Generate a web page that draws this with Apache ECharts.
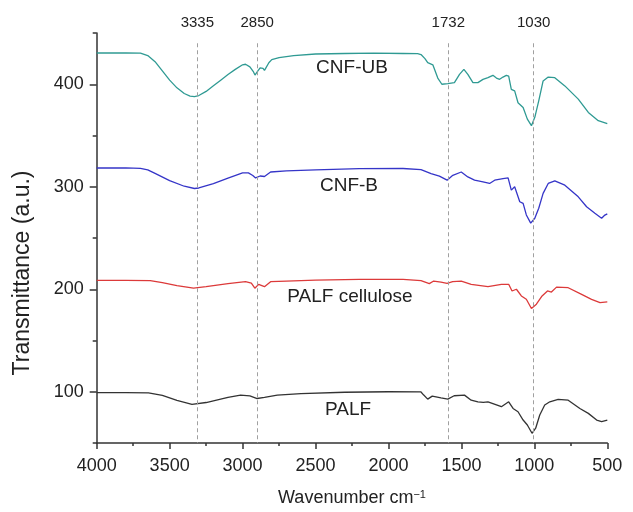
<!DOCTYPE html>
<html><head><meta charset="utf-8">
<script src="https://cdn.jsdelivr.net/npm/echarts@6/dist/echarts.min.js"></script>
<style>html,body{margin:0;padding:0;background:#fff}#c{width:633px;height:512px}</style>
</head><body><div id="c"></div>
<script>
const xTicks = [4000, 3500, 3000, 2500, 2000, 1500, 1000, 500];
const yTicks = [100, 200, 300, 400];
const yMinorTicks = [50, 150, 250, 350, 450];
const peakPositions = [3310, 2900, 1590, 1005];
const peakLabels = ['3335', '2850', '1732', '1030'];
const seriesNames = ['CNF-UB', 'CNF-B', 'PALF cellulose', 'PALF'];

const cnfUB = [[4000,430.5],[3800,430.5],[3700,430.3],[3650,428],[3600,422],[3550,413],[3500,404],[3450,396.5],[3400,391],[3360,388.5],[3330,388],[3300,389],[3250,393],[3200,398.5],[3150,404],[3100,409.5],[3050,414.5],[3000,419],[2980,419.5],[2950,417],[2925,412],[2915,409],[2900,412],[2880,416],[2860,415.5],[2850,413.5],[2840,416],[2820,421],[2800,424],[2750,426],[2650,428],[2500,429.5],[2300,430],[2100,430.3],[1900,430],[1800,429.8],[1777,429],[1750,425],[1731,421],[1696,419],[1662,406],[1634,400],[1593,400.6],[1548,401.6],[1513,409.7],[1483,414.5],[1456,409.7],[1421,401.6],[1387,401.6],[1352,404.8],[1318,406.4],[1284,408.7],[1260,406],[1238,404.8],[1215,407],[1192,408.7],[1176,408],[1158,395],[1135,393.5],[1112,382],[1077,377.3],[1048,366],[1020,359.6],[997,367.7],[970,383.8],[940,403.2],[905,407],[860,406.4],[791,398.4],[699,385.5],[630,372.5],[562,364.5],[500,361.5]];

const cnfB = [[4000,318.3],[3800,318.5],[3700,318],[3650,316.5],[3600,313],[3500,306],[3400,300.5],[3330,298.3],[3300,298.8],[3200,303],[3100,308.5],[3000,313.5],[2960,313.5],[2930,311],[2911,308.6],[2880,310.5],[2850,310],[2808,314.4],[2700,315.4],[2500,316.5],[2200,317.7],[1900,317.8],[1777,316.7],[1708,312.9],[1651,310.3],[1598,306.4],[1559,311.2],[1501,314.4],[1456,309.6],[1410,306.4],[1352,304.7],[1307,303.2],[1272,306.4],[1215,308],[1180,308.6],[1158,296.7],[1135,300],[1100,285.4],[1077,283.8],[1055,272.5],[1025,264.5],[997,269.3],[970,279],[940,293.5],[905,303.2],[860,305.7],[791,301.5],[699,290.2],[642,280.5],[585,274.2],[539,269.3],[520,272],[500,273.5]];

const palfCellulose = [[4000,208.6],[3800,208.6],[3633,208.5],[3550,206.5],[3450,203.5],[3336,201],[3250,202.5],[3100,205.5],[2980,207.4],[2940,206],[2916,201],[2890,204.8],[2850,202.5],[2808,207.4],[2700,208],[2500,209],[2200,209.6],[1900,209.6],[1777,208.5],[1720,205.5],[1690,208],[1640,207],[1598,205.7],[1560,207.5],[1501,208],[1433,204.8],[1318,202.5],[1226,204.8],[1176,204.8],[1153,198.3],[1123,200],[1089,193.5],[1055,190.2],[1020,181.2],[986,185.4],[947,193.5],[910,198.3],[883,197.3],[848,202.1],[768,201.5],[676,195],[608,190.2],[550,187],[500,187.6]];

const palf = [[4000,99.2],[3800,99.2],[3645,99],[3550,96.5],[3450,91.5],[3347,87.6],[3250,89.5],[3100,94.5],[3014,96.7],[2950,96],[2900,93.4],[2850,94.5],[2762,96.7],[2600,98.2],[2300,99.5],[2000,100],[1777,99.8],[1760,97],[1731,92.8],[1700,95.7],[1674,95.1],[1640,94.1],[1593,92.8],[1550,96.1],[1479,96.7],[1433,91.8],[1387,90.2],[1350,89.6],[1318,90.2],[1284,88.5],[1226,85.4],[1176,90.2],[1146,83.7],[1112,80.5],[1077,72.4],[1048,67.6],[1016,59.5],[991,64.4],[963,77.3],[929,87],[894,90.2],[837,92.5],[768,91.8],[688,83.7],[630,78.9],[573,72.4],[539,70.8],[500,72.4]];

const FONT = "'Liberation Sans', Arial, sans-serif";
const TXT = '#222';
const AX = '#333';
const colors = ['#2f9a93', '#3535c8', '#dc3a3a', '#333333'];
const seriesData = [cnfUB, cnfB, palfCellulose, palf];
const labelPos = [[352, 68], [349, 186], [350, 297], [348, 410]];

const chart = echarts.init(document.getElementById('c'), null, {renderer: 'canvas'});

const series = seriesData.map((d, i) => ({
  name: seriesNames[i],
  type: 'line',
  data: d,
  showSymbol: false,
  symbol: 'none',
  smooth: false,
  lineStyle: {color: colors[i], width: 1.3},
  itemStyle: {color: colors[i]},
  z: 3
}));

series[0].markLine = {
  silent: true,
  symbol: 'none',
  animation: false,
  lineStyle: {type: [4, 3], color: '#a0a0a0', width: 1},
  label: {
    show: true,
    position: 'start',
    distance: 13,
    fontSize: 15,
    fontFamily: FONT,
    color: TXT,
    formatter: p => p.name
  },
  data: peakPositions.map((p, i) => [
    {coord: [p, 440], name: peakLabels[i]},
    {coord: [p, 50]}
  ])
};

const option = {
  animation: false,
  backgroundColor: '#fff',
  grid: {left: 96.7, right: 25.7, top: 33, bottom: 67, containLabel: false},
  xAxis: {
    type: 'value',
    inverse: true,
    min: 500,
    max: 4000,
    interval: 500,
    axisLine: {show: true, onZero: false, lineStyle: {color: AX, width: 1.5}},
    axisTick: {show: true, length: 6, lineStyle: {color: AX, width: 1.5}},
    minorTick: {show: true, splitNumber: 2, length: 3, lineStyle: {color: AX, width: 1.5}},
    axisLabel: {fontSize: 18, color: TXT, fontFamily: FONT, margin: 14,
      customValues: xTicks, formatter: v => String(v)},
    splitLine: {show: false},
    minorSplitLine: {show: false},
    name: '{a|Wavenumber cm}{b|−1}',
    nameLocation: 'middle',
    nameGap: 46,
    nameTextStyle: {
      fontSize: 18, color: TXT, fontFamily: FONT,
      rich: {
        a: {fontSize: 18, color: TXT, fontFamily: FONT},
        b: {fontSize: 11, color: TXT, fontFamily: FONT, verticalAlign: 'top'}
      }
    }
  },
  yAxis: [{
    type: 'value',
    min: 50,
    max: 450,
    interval: 50,
    position: 'left',
    axisLine: {show: true, onZero: false, lineStyle: {color: AX, width: 1.5}},
    axisTick: {show: true, length: 7, customValues: yTicks, lineStyle: {color: AX, width: 1.5}},
    axisLabel: {fontSize: 18, color: TXT, fontFamily: FONT, margin: 13, customValues: yTicks, formatter: v => String(v)},
    splitLine: {show: false}
  }, {
    type: 'value',
    min: 50,
    max: 450,
    interval: 50,
    position: 'left',
    offset: 0,
    axisLine: {show: false},
    axisTick: {show: true, length: 4, customValues: yMinorTicks, lineStyle: {color: AX, width: 1.5}},
    axisLabel: {show: false},
    splitLine: {show: false}
  }],
  graphic: seriesNames.map((n, i) => ({
    type: 'text',
    x: labelPos[i][0],
    y: labelPos[i][1],
    z: 10,
    style: {text: n, fontSize: 19, fontFamily: FONT, fill: TXT, align: 'center', verticalAlign: 'middle'}
  })).concat([{
    type: 'text',
    x: 23,
    y: 273,
    rotation: Math.PI / 2,
    style: {text: 'Transmittance (a.u.)', fontSize: 23, fontFamily: FONT, fill: TXT, align: 'center', verticalAlign: 'middle'}
  }]),
  series: series
};

chart.setOption(option);
</script>
</body></html>
